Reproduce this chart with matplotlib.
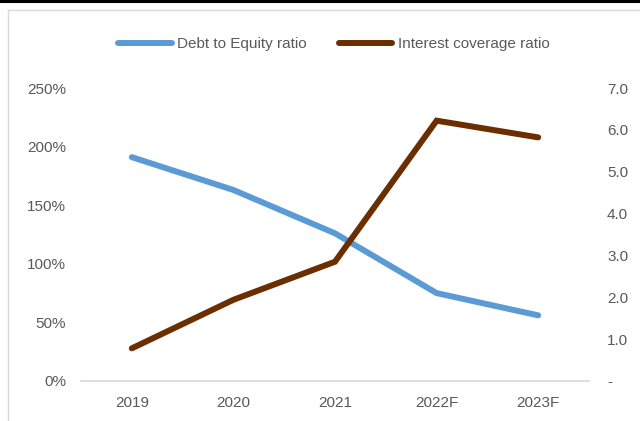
import matplotlib
matplotlib.use("Agg")
import matplotlib.pyplot as plt
from matplotlib.lines import Line2D
from matplotlib.ticker import FuncFormatter

plt.rcParams['font.family'] = ['Liberation Sans', 'DejaVu Sans']

categories = ["2019", "2020", "2021", "2022F", "2023F"]
debt_to_equity = [191, 163, 126, 75, 56]          # percent
interest_coverage = [0.78, 1.94, 2.85, 6.22, 5.82]  # times

blue = "#5B9BD5"
brown = "#6A2E00"
tick_color = "#595959"

fig = plt.figure(figsize=(6.4, 4.21), dpi=100)
ax = fig.add_axes([81/640, 1-381/421, (589-81)/640, (381-88)/421])
ax2 = ax.twinx()

x = list(range(len(categories)))
ax.plot(x, debt_to_equity, color=blue, lw=4.3, solid_capstyle='round', solid_joinstyle='miter', zorder=3)
ax2.plot(x, interest_coverage, color=brown, lw=4.3, solid_capstyle='round', solid_joinstyle='miter', zorder=3)

ax.set_xlim(-0.5, 4.5)
ax.set_ylim(0, 250)
ax2.set_ylim(0, 7)
ax.set_xticks(x)
ax.set_xticklabels(categories)
ax.set_yticks([0, 50, 100, 150, 200, 250])
ax.yaxis.set_major_formatter(FuncFormatter(lambda v, p: f"{int(v)}%"))
ax2.set_yticks([0, 1, 2, 3, 4, 5, 6, 7])
ax2.yaxis.set_major_formatter(FuncFormatter(lambda v, p: "-" if v == 0 else f"{v:.1f}"))

for a in (ax, ax2):
    for s in a.spines.values():
        s.set_visible(False)
    a.tick_params(length=0, labelsize=11, labelcolor=tick_color)
ax.spines['bottom'].set_visible(True)
ax.spines['bottom'].set_color("#D9D9D9")
ax.spines['bottom'].set_linewidth(1.2)
ax.tick_params(axis='y', pad=10.8)
ax.tick_params(axis='x', pad=10.5)
ax2.tick_params(axis='y', pad=13)

# frame decorations
fig.add_artist(Line2D([0, 1], [1-1.3/421, 1-1.3/421], color='black', lw=2.2, transform=fig.transFigure))
fig.add_artist(Line2D([8/640, 1], [1-10/421, 1-10/421], color='#D9D9D9', lw=1.0, transform=fig.transFigure))
fig.add_artist(Line2D([8/640, 8/640], [0, 1-10/421], color='#D9D9D9', lw=1.0, transform=fig.transFigure))

handles = [Line2D([], [], color=blue, lw=4.3, solid_capstyle='round'),
           Line2D([], [], color=brown, lw=4.3, solid_capstyle='round')]
fig.legend(handles, ["Debt to Equity ratio", "Interest coverage ratio"],
           loc='center', bbox_to_anchor=(334/640, 1-44/421), ncol=2, frameon=False,
           fontsize=11, labelcolor=tick_color, handlelength=3.5, handletextpad=0.35,
           columnspacing=2.1)

fig.savefig("out.png", dpi=100)
